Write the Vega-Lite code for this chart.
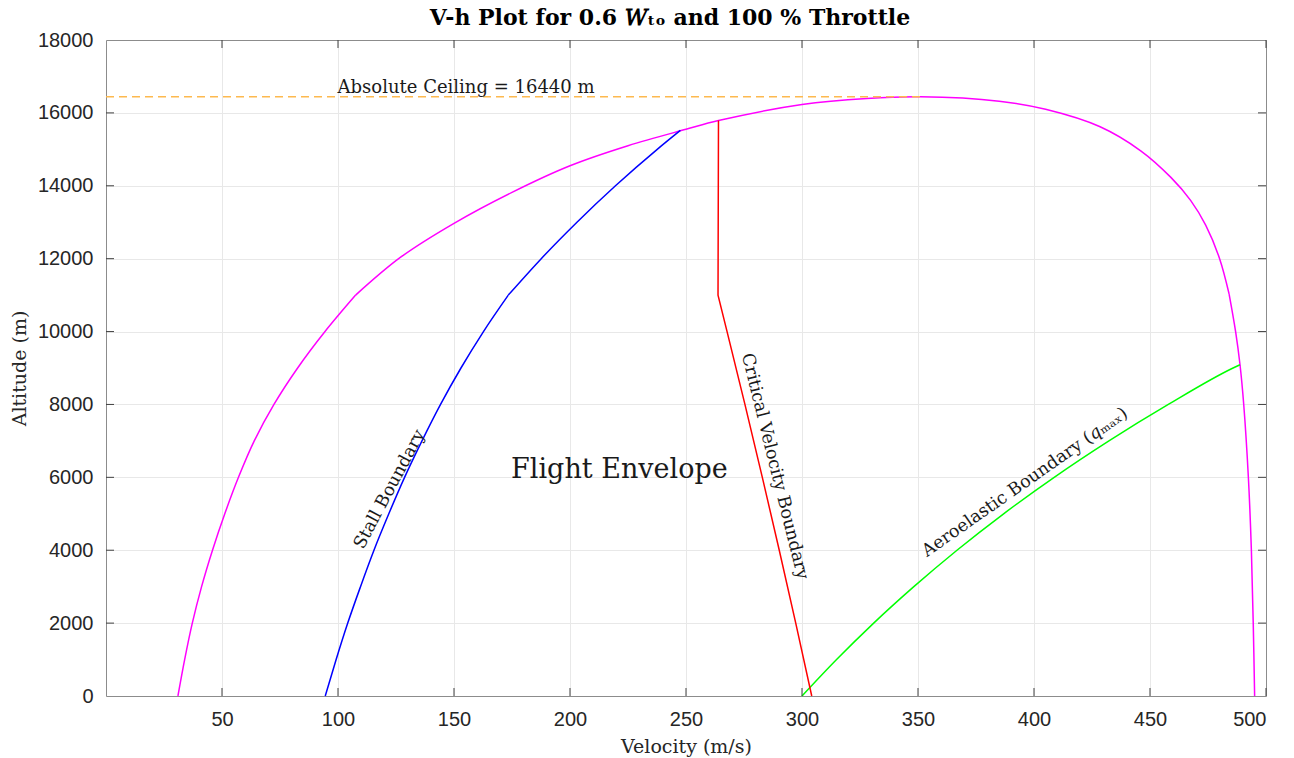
{
  "$schema": "https://vega.github.io/schema/vega-lite/v6.json",
  "width": 1160,
  "height": 656,
  "autosize": {"type": "none"},
  "padding": {"left": 106, "top": 40, "right": 28, "bottom": 62},
  "background": "white",
  "title": {"text": "V-h Plot for 0.6 𝑊ₜₒ and 100 % Throttle", "font": "DejaVu Serif", "fontSize": 22, "fontWeight": "bold", "color": "#000000", "anchor": "middle", "offset": 0, "dx": -16},
  "config": {
    "view": {"stroke": null},
    "axis": {
      "labelFont": "Liberation Sans",
      "labelFontSize": 20,
      "labelColor": "#262626",
      "titleFont": "DejaVu Serif",
      "titleFontSize": 19,
      "titleFontWeight": "normal",
      "titleColor": "#262626",
      "domainColor": "#8c8c8c",
      "domainWidth": 1,
      "ticks": false,
      "gridColor": "#e8e8e8",
      "gridWidth": 1
    }
  },
  "datasets": {
    "curves": [
      {"b": "thrust", "s": "t1", "o": 1, "V": 31, "h": 0},
      {"b": "thrust", "s": "t1", "o": 2, "V": 33.9, "h": 1000},
      {"b": "thrust", "s": "t1", "o": 3, "V": 37.2, "h": 2000},
      {"b": "thrust", "s": "t1", "o": 4, "V": 41.2, "h": 3000},
      {"b": "thrust", "s": "t1", "o": 5, "V": 45.9, "h": 4000},
      {"b": "thrust", "s": "t1", "o": 6, "V": 51.2, "h": 5000},
      {"b": "thrust", "s": "t1", "o": 7, "V": 57.1, "h": 6000},
      {"b": "thrust", "s": "t1", "o": 8, "V": 63.9, "h": 7000},
      {"b": "thrust", "s": "t1", "o": 9, "V": 72.4, "h": 8000},
      {"b": "thrust", "s": "t1", "o": 10, "V": 82.6, "h": 9000},
      {"b": "thrust", "s": "t1", "o": 11, "V": 94.4, "h": 10000},
      {"b": "thrust", "s": "t1", "o": 12, "V": 107.6, "h": 11000},
      {"b": "thrust", "s": "t2", "o": 12, "V": 107.6, "h": 11000},
      {"b": "thrust", "s": "t2", "o": 13, "V": 127, "h": 12040},
      {"b": "thrust", "s": "t2", "o": 14, "V": 150, "h": 12970},
      {"b": "thrust", "s": "t2", "o": 15, "V": 175, "h": 13820},
      {"b": "thrust", "s": "t2", "o": 16, "V": 200, "h": 14550},
      {"b": "thrust", "s": "t2", "o": 17, "V": 225, "h": 15100},
      {"b": "thrust", "s": "t2", "o": 18, "V": 250, "h": 15550},
      {"b": "thrust", "s": "t2", "o": 19, "V": 264, "h": 15790},
      {"b": "thrust", "s": "t2", "o": 20, "V": 300, "h": 16230},
      {"b": "thrust", "s": "t2", "o": 21, "V": 328, "h": 16395},
      {"b": "thrust", "s": "t2", "o": 22, "V": 351, "h": 16440},
      {"b": "thrust", "s": "t2", "o": 23, "V": 385, "h": 16320},
      {"b": "thrust", "s": "t2", "o": 24, "V": 405, "h": 16100},
      {"b": "thrust", "s": "t2", "o": 25, "V": 428.5, "h": 15620},
      {"b": "thrust", "s": "t2", "o": 26, "V": 446, "h": 14960},
      {"b": "thrust", "s": "t2", "o": 27, "V": 459, "h": 14230},
      {"b": "thrust", "s": "t2", "o": 28, "V": 467.5, "h": 13600},
      {"b": "thrust", "s": "t2", "o": 29, "V": 474, "h": 12920},
      {"b": "thrust", "s": "t2", "o": 30, "V": 480, "h": 12000},
      {"b": "thrust", "s": "t2", "o": 31, "V": 484.1, "h": 11030},
      {"b": "thrust", "s": "t3", "o": 31, "V": 484.1, "h": 11030},
      {"b": "thrust", "s": "t3", "o": 32, "V": 486.9, "h": 10000},
      {"b": "thrust", "s": "t3", "o": 33, "V": 488.8, "h": 9090},
      {"b": "thrust", "s": "t3", "o": 34, "V": 490.4, "h": 8000},
      {"b": "thrust", "s": "t3", "o": 35, "V": 492.4, "h": 6000},
      {"b": "thrust", "s": "t3", "o": 36, "V": 493.7, "h": 4000},
      {"b": "thrust", "s": "t3", "o": 37, "V": 494.5, "h": 2000},
      {"b": "thrust", "s": "t3", "o": 38, "V": 495.1, "h": 0},
      {"b": "stall", "s": "s1", "o": 1, "V": 94.5, "h": 0},
      {"b": "stall", "s": "s1", "o": 2, "V": 99.2, "h": 1000},
      {"b": "stall", "s": "s1", "o": 3, "V": 104.2, "h": 2000},
      {"b": "stall", "s": "s1", "o": 4, "V": 109.7, "h": 3000},
      {"b": "stall", "s": "s1", "o": 5, "V": 115.5, "h": 4000},
      {"b": "stall", "s": "s1", "o": 6, "V": 121.9, "h": 5000},
      {"b": "stall", "s": "s1", "o": 7, "V": 128.7, "h": 6000},
      {"b": "stall", "s": "s1", "o": 8, "V": 136.2, "h": 7000},
      {"b": "stall", "s": "s1", "o": 9, "V": 144.2, "h": 8000},
      {"b": "stall", "s": "s1", "o": 10, "V": 153.0, "h": 9000},
      {"b": "stall", "s": "s1", "o": 11, "V": 162.7, "h": 10000},
      {"b": "stall", "s": "s1", "o": 12, "V": 173.4, "h": 11000},
      {"b": "stall", "s": "s2", "o": 12, "V": 173.4, "h": 11000},
      {"b": "stall", "s": "s2", "o": 13, "V": 187.6, "h": 12000},
      {"b": "stall", "s": "s2", "o": 14, "V": 203.0, "h": 13000},
      {"b": "stall", "s": "s2", "o": 15, "V": 219.6, "h": 14000},
      {"b": "stall", "s": "s2", "o": 16, "V": 237.6, "h": 15000},
      {"b": "stall", "s": "s2", "o": 17, "V": 247.6, "h": 15520},
      {"b": "aero", "s": "a1", "o": 1, "V": 300, "h": 0},
      {"b": "aero", "s": "a1", "o": 2, "V": 314.9, "h": 1000},
      {"b": "aero", "s": "a1", "o": 3, "V": 330.9, "h": 2000},
      {"b": "aero", "s": "a1", "o": 4, "V": 348.2, "h": 3000},
      {"b": "aero", "s": "a1", "o": 5, "V": 366.8, "h": 4000},
      {"b": "aero", "s": "a1", "o": 6, "V": 386.9, "h": 5000},
      {"b": "aero", "s": "a1", "o": 7, "V": 408.7, "h": 6000},
      {"b": "aero", "s": "a1", "o": 8, "V": 432.3, "h": 7000},
      {"b": "aero", "s": "a1", "o": 9, "V": 457.9, "h": 8000},
      {"b": "aero", "s": "a1", "o": 10, "V": 485.8, "h": 9000},
      {"b": "aero", "s": "a1", "o": 11, "V": 488.8, "h": 9090},
      {"b": "crit", "s": "c1", "o": 1, "V": 264, "h": 15790},
      {"b": "crit", "s": "c1", "o": 2, "V": 263.8, "h": 11000},
      {"b": "crit", "s": "c1", "o": 3, "V": 267.7, "h": 10000},
      {"b": "crit", "s": "c1", "o": 4, "V": 275.4, "h": 8000},
      {"b": "crit", "s": "c1", "o": 5, "V": 282.9, "h": 6000},
      {"b": "crit", "s": "c1", "o": 6, "V": 290.2, "h": 4000},
      {"b": "crit", "s": "c1", "o": 7, "V": 297.3, "h": 2000},
      {"b": "crit", "s": "c1", "o": 8, "V": 304.2, "h": 0}
    ],
    "ceiling": [
      {"V": 0, "h": 16440},
      {"V": 351, "h": 16440}
    ],
    "xticks": [
      {"V": 50}, {"V": 100}, {"V": 150}, {"V": 200}, {"V": 250},
      {"V": 300}, {"V": 350}, {"V": 400}, {"V": 450}, {"V": 500}
    ],
    "yticks": [
      {"h": 2000}, {"h": 4000}, {"h": 6000}, {"h": 8000},
      {"h": 10000}, {"h": 12000}, {"h": 14000}, {"h": 16000}
    ],
    "labels": [
      {"t": "Absolute Ceiling = 16440 m", "V": 155.2, "h": 16690, "a": 0, "z": 18},
      {"t": "Flight Envelope", "V": 221.3, "h": 6200, "a": 0, "z": 27},
      {"t": "Stall Boundary", "V": 122.3, "h": 5670, "a": -62, "z": 17.5},
      {"t": "Critical Velocity Boundary", "V": 288.2, "h": 6300, "a": 76, "z": 17.5},
      {"t": "Aeroelastic Boundary (𝑞ₘₐₓ)", "V": 396.1, "h": 5858, "a": -35, "z": 17.5}
    ]
  },
  "layer": [
    {
      "data": {"name": "curves"},
      "transform": [{"filter": "datum.b === 'thrust'"}],
      "mark": {"type": "line", "strokeWidth": 1.5, "interpolate": "catmull-rom", "color": "#FF00FF"},
      "encoding": {
        "x": {"field": "V", "type": "quantitative", "scale": {"domain": [0, 500], "nice": false, "zero": false},
              "axis": {"orient": "bottom", "title": "Velocity (m/s)", "values": [50, 100, 150, 200, 250, 300, 350, 400, 450, 500], "grid": true, "labelPadding": 13, "titlePadding": 8}},
        "y": {"field": "h", "type": "quantitative", "scale": {"domain": [0, 18000], "nice": false, "zero": false},
              "axis": {"orient": "left", "title": "Altitude (m)", "values": [0, 2000, 4000, 6000, 8000, 10000, 12000, 14000, 16000, 18000], "grid": true, "labelPadding": 13, "titlePadding": 8, "format": "d"}},
        "detail": {"field": "s"},
        "order": {"field": "o", "type": "quantitative"}
      }
    },
    {
      "data": {"name": "curves"},
      "transform": [{"filter": "datum.b === 'stall' || datum.b === 'aero'"}],
      "mark": {"type": "line", "strokeWidth": 1.5, "interpolate": "monotone"},
      "encoding": {
        "x": {"field": "V", "type": "quantitative", "axis": null},
        "y": {"field": "h", "type": "quantitative", "axis": null},
        "color": {"field": "b", "type": "nominal", "scale": {"domain": ["stall", "aero"], "range": ["#0000FF", "#00FF00"]}, "legend": null},
        "detail": {"field": "s"},
        "order": {"field": "o", "type": "quantitative"}
      }
    },
    {
      "data": {"name": "curves"},
      "transform": [{"filter": "datum.b === 'crit'"}],
      "mark": {"type": "line", "strokeWidth": 1.5, "color": "#FF0000"},
      "encoding": {
        "x": {"field": "V", "type": "quantitative", "axis": null},
        "y": {"field": "h", "type": "quantitative", "axis": null},
        "order": {"field": "o", "type": "quantitative"}
      }
    },
    {
      "data": {"name": "ceiling"},
      "mark": {"type": "line", "strokeWidth": 1.5, "strokeDash": [8, 5], "color": "#FDB94F"},
      "encoding": {
        "x": {"field": "V", "type": "quantitative", "axis": {"orient": "top", "title": null, "labels": false, "grid": false, "values": [50, 100, 150, 200, 250, 300, 350, 400, 450, 500]}},
        "y": {"field": "h", "type": "quantitative", "axis": {"orient": "right", "title": null, "labels": false, "grid": false, "values": [0, 2000, 4000, 6000, 8000, 10000, 12000, 14000, 16000, 18000]}}
      }
    },
    {
      "data": {"name": "xticks"},
      "mark": {"type": "tick", "orient": "vertical", "size": 8, "thickness": 1, "color": "#404040", "yOffset": -4, "opacity": 1},
      "encoding": {
        "x": {"field": "V", "type": "quantitative", "axis": null},
        "y": {"datum": 0, "type": "quantitative", "axis": null}
      }
    },
    {
      "data": {"name": "xticks"},
      "mark": {"type": "tick", "orient": "vertical", "size": 8, "thickness": 1, "color": "#404040", "yOffset": 4, "opacity": 1},
      "encoding": {
        "x": {"field": "V", "type": "quantitative", "axis": null},
        "y": {"datum": 18000, "type": "quantitative", "axis": null}
      }
    },
    {
      "data": {"name": "yticks"},
      "mark": {"type": "tick", "orient": "horizontal", "size": 8, "thickness": 1, "color": "#404040", "xOffset": 4, "opacity": 1},
      "encoding": {
        "y": {"field": "h", "type": "quantitative", "axis": null},
        "x": {"datum": 0, "type": "quantitative", "axis": null}
      }
    },
    {
      "data": {"name": "yticks"},
      "mark": {"type": "tick", "orient": "horizontal", "size": 8, "thickness": 1, "color": "#404040", "xOffset": -4, "opacity": 1},
      "encoding": {
        "y": {"field": "h", "type": "quantitative", "axis": null},
        "x": {"datum": 500, "type": "quantitative", "axis": null}
      }
    },
    {
      "data": {"name": "labels"},
      "mark": {"type": "text", "font": "DejaVu Serif", "align": "center", "baseline": "middle", "color": "#1a1a1a"},
      "encoding": {
        "x": {"field": "V", "type": "quantitative", "axis": null},
        "y": {"field": "h", "type": "quantitative", "axis": null},
        "text": {"field": "t"},
        "angle": {"field": "a", "type": "quantitative", "scale": null},
        "size": {"field": "z", "type": "quantitative", "scale": null}
      }
    }
  ],
  "resolve": {"axis": {"x": "independent", "y": "independent"}, "scale": {"color": "independent"}}
}
